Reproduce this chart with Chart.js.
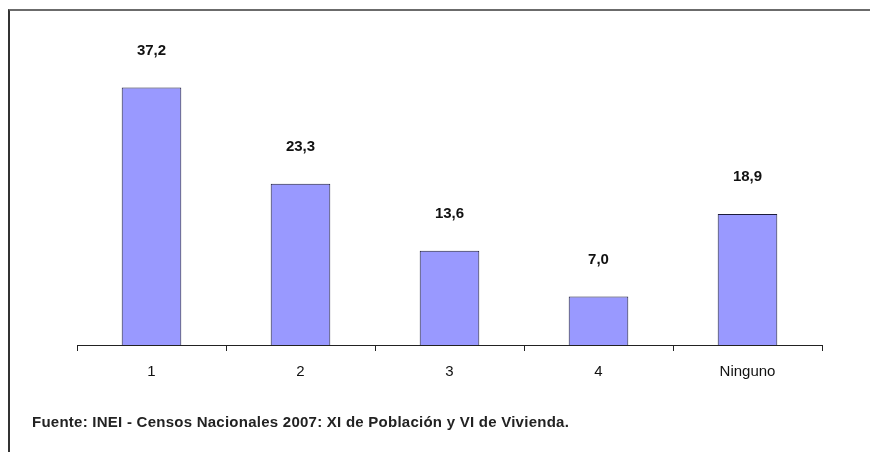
<!DOCTYPE html>
<html>
<head>
<meta charset="utf-8">
<script src="https://cdn.jsdelivr.net/npm/chart.js@4"></script>
<style>
  html, body { margin: 0; padding: 0; background: #fff; }
  #wrap { position: relative; width: 870px; height: 452px; overflow: hidden; }
  #frame { position: absolute; left: 8px; top: 9px; right: -2px; bottom: -2px;
           border-top: 2px solid #6b6b6b; border-left: 2px solid #333; }
  #chartCanvas { position: absolute; left: 0; top: 0; }
  #fuente { position: absolute; left: 32px; top: 413px; font-family: 'Liberation Sans', Arial, sans-serif;
            font-weight: bold; font-size: 15px; letter-spacing: 0.25px; color: #222; white-space: nowrap; }
</style>
</head>
<body>
<div id="wrap">
  <div id="frame"></div>
  <canvas id="chartCanvas" width="870" height="452"></canvas>
  <div id="fuente">Fuente: INEI - Censos Nacionales 2007: XI de Población y VI de Vivienda.</div>
</div>
<script>
const categories = ['1', '2', '3', '4', 'Ninguno'];
const valores = [37.2, 23.3, 13.6, 7.0, 18.9];

const fontFam = "'Liberation Sans', Arial, sans-serif";

// Werte über den Balken
const valueLabels = {
  id: 'valueLabels',
  afterDatasetsDraw(chart) {
    const ctx = chart.ctx;
    const meta = chart.getDatasetMeta(0);
    ctx.save();
    ctx.font = 'bold 15px ' + fontFam;
    ctx.fillStyle = '#111';
    ctx.textAlign = 'center';
    ctx.textBaseline = 'middle';
    meta.data.forEach((bar, i) => {
      ctx.fillText(valores[i].toFixed(1).replace('.', ','), bar.x, bar.y - 37);
    });
    ctx.restore();
  }
};

const ctx = document.getElementById('chartCanvas').getContext('2d');
new Chart(ctx, {
  type: 'bar',
  data: {
    labels: categories,
    datasets: [{
      data: valores,
      backgroundColor: '#9999ff',
      borderColor: '#1c1c3a',
      borderWidth: 1,
      barPercentage: 0.4,
      categoryPercentage: 1.0
    }]
  },
  options: {
    responsive: false,
    animation: false,
    layout: { padding: { left: 77, right: 48, top: 68, bottom: 57 } },
    plugins: { legend: { display: false }, tooltip: { enabled: false } },
    scales: {
      x: {
        afterFit: s => { s.height = 50; },
        border: { display: true, color: '#222', width: 1 },
        grid: { display: true, offset: true, drawOnChartArea: false, drawTicks: true, tickLength: 6, color: '#222' },
        ticks: { color: '#111', padding: 12, font: { family: fontFam, size: 15 } }
      },
      y: {
        display: false,
        min: 0,
        max: 40
      }
    }
  },
  plugins: [valueLabels]
});
</script>
</body>
</html>
